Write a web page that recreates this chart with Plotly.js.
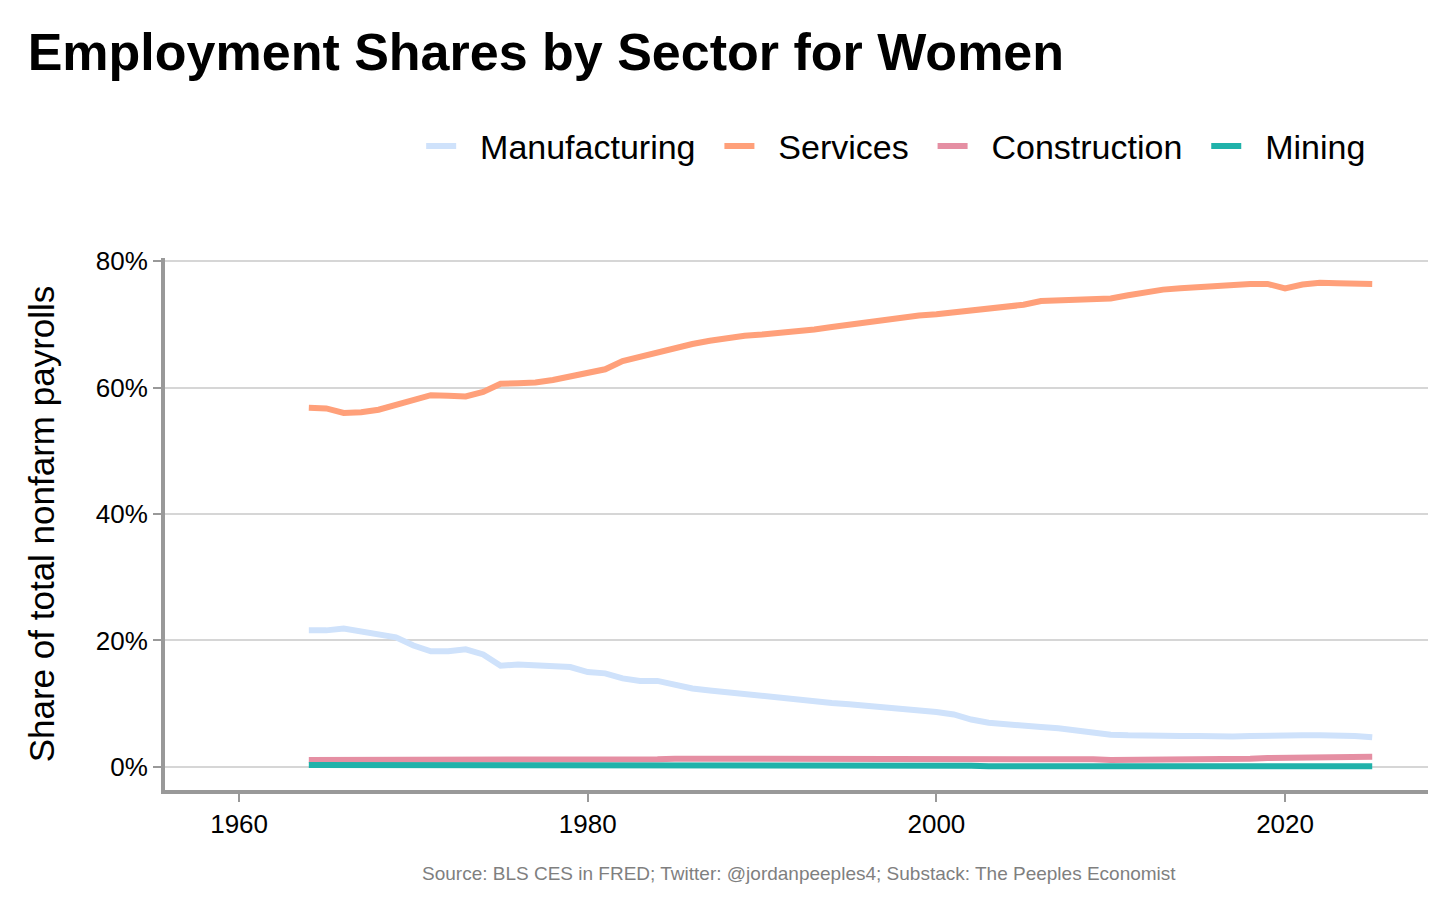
<!DOCTYPE html>
<html><head><meta charset="utf-8">
<script src="https://cdn.plot.ly/plotly-3.0.1.min.js"></script>
<style>body{margin:0;background:#fff}#chart{width:1456px;height:910px}</style>
</head><body><div id="chart"></div>
<script>
const years = [];
for (let y = 1964; y <= 2025; y++) years.push(y);

const services = [56.8,56.7,56.0,56.1,56.5,57.2,58.0,58.8,58.7,58.6,59.3,60.6,60.7,60.8,61.2,61.7,62.2,62.9,64.2,64.9,65.4,66.2,66.9,67.4,67.9,68.2,68.4,68.6,68.8,69.2,69.6,70.0,70.4,70.7,71.0,71.4,71.6,71.9,72.1,72.5,72.8,73.1,73.7,73.8,73.7,73.8,74.1,74.6,75.1,75.5,75.7,75.9,76.2,76.3,76.4,76.4,75.7,76.3,76.6,76.5,76.4,76.4];
const manufacturing = [21.6,21.6,21.9,21.4,20.9,20.5,19.2,18.3,18.3,18.6,17.8,16.0,16.2,16.1,16.0,15.8,15.0,14.8,14.0,13.6,13.6,12.9,12.4,12.1,11.8,11.6,11.2,10.8,10.5,10.3,10.1,9.9,9.7,9.5,9.3,9.0,8.7,8.3,7.5,7.0,6.7,6.5,6.3,6.1,5.8,5.3,5.1,5.0,4.9,4.9,4.9,4.9,4.8,4.8,4.9,5.0,5.0,5.0,5.0,5.0,4.9,4.7];
const construction = [1.1,1.1,1.0,1.0,1.0,1.0,1.0,1.0,1.1,1.1,1.1,1.1,1.1,1.1,1.2,1.2,1.2,1.2,1.2,1.2,1.2,1.3,1.3,1.3,1.3,1.3,1.3,1.2,1.2,1.2,1.2,1.2,1.2,1.2,1.3,1.3,1.3,1.3,1.3,1.3,1.3,1.3,1.4,1.4,1.4,1.2,1.1,1.1,1.1,1.1,1.2,1.2,1.2,1.3,1.3,1.4,1.4,1.4,1.5,1.5,1.6,1.6];
const mining = [0.3,0.3,0.3,0.3,0.3,0.3,0.3,0.3,0.3,0.3,0.3,0.3,0.3,0.3,0.3,0.3,0.4,0.4,0.4,0.4,0.3,0.3,0.3,0.2,0.2,0.2,0.2,0.2,0.2,0.2,0.2,0.2,0.2,0.2,0.2,0.2,0.2,0.2,0.2,0.1,0.1,0.1,0.1,0.1,0.1,0.1,0.1,0.2,0.2,0.2,0.2,0.1,0.1,0.1,0.1,0.1,0.1,0.1,0.1,0.1,0.1,0.1];

const seriesNames = ["Manufacturing","Services","Construction","Mining"];
const seriesData = [manufacturing, services, construction, mining];
const seriesColors = ["#cfe2fb","#ffa07a","#e58fa3","#20b2aa"];

const pad = "&nbsp;&nbsp;";
const traces = seriesData.map((vals, i) => ({
  type: "scatter", mode: "lines", x: years, y: vals,
  name: pad + seriesNames[i] + (i < seriesNames.length - 1 ? pad : ""),
  line: { color: seriesColors[i], width: 6 }
}));

const font = "Arial, 'Liberation Sans', sans-serif";
const layout = {
  width: 1456, height: 910,
  margin: { l: 165, r: 28, t: 258, b: 120 },
  paper_bgcolor: "#fff", plot_bgcolor: "#fff",
  font: { family: font, color: "#000" },
  title: { text: "<b>Employment Shares by Sector for Women</b>", x: 0.019, xanchor: "left", y: 0.943, yanchor: "middle", font: { size: 52, color: "#000" } },
  showlegend: true,
  legend: { orientation: "h", x: 0.955, xanchor: "right", y: 1.21, yanchor: "middle", font: { size: 34 }, traceorder: "normal" },
  xaxis: {
    range: [1955.75, 2028.2], tickvals: [1960,1980,2000,2020], showgrid: false, zeroline: false,
    showline: true, linecolor: "#999", linewidth: 4, ticks: "outside", ticklen: 8, tickwidth: 2, tickcolor: "#999",
    tickfont: { size: 26 }
  },
  yaxis: {
    range: [-3.65, 80.5], tickvals: [0,20,40,60,80], ticktext: ["0%","20%","40%","60%","80%"],
    showgrid: true, gridcolor: "#d6d6d6", gridwidth: 2, zeroline: false,
    showline: true, linecolor: "#999", linewidth: 4, ticks: "outside", ticklen: 8, tickwidth: 2, tickcolor: "#999",
    tickfont: { size: 26 }, title: { text: "Share of total nonfarm payrolls", font: { size: 35 }, standoff: 32 }
  },
  annotations: [{
    text: "Source: BLS CES in FRED; Twitter: @jordanpeeples4; Substack: The Peeples Economist",
    xref: "paper", yref: "paper", x: 0.502, y: -0.157, xanchor: "center", yanchor: "middle",
    showarrow: false, font: { size: 19, color: "#7f7f7f" }
  }]
};

Plotly.newPlot("chart", traces, layout, { displayModeBar: false });
</script></body></html>
